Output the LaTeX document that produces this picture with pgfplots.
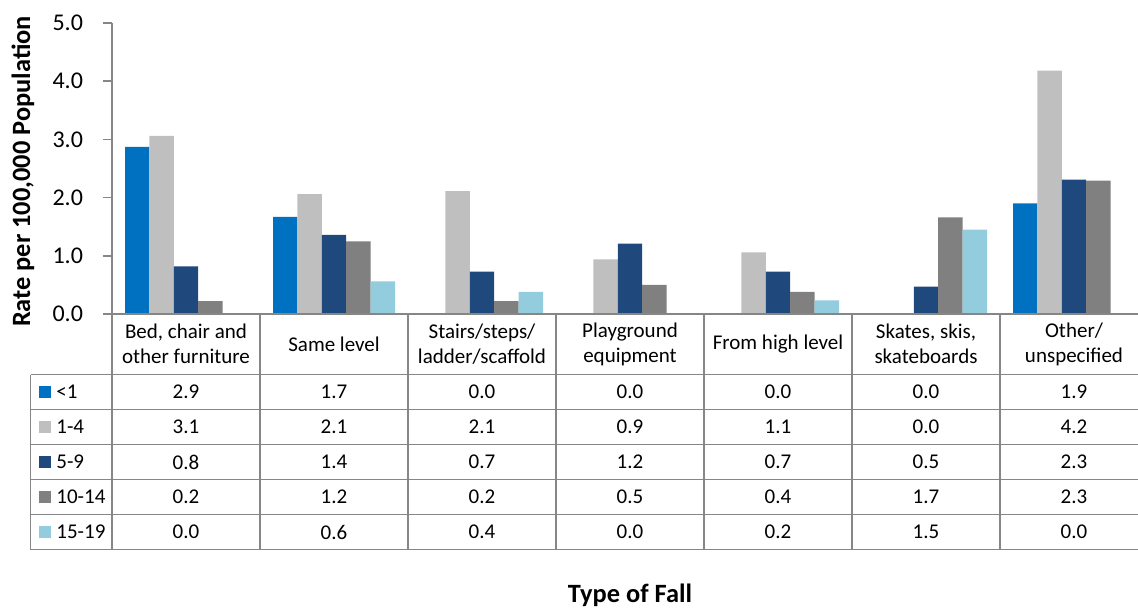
\documentclass[border=0pt]{standalone}
\usepackage{fontspec}
\setmainfont{Carlito}
\usepackage{pgfplots}
\pgfplotsset{compat=1.18}
\definecolor{cA}{HTML}{0070C0}
\definecolor{cB}{HTML}{BFBFBF}
\definecolor{cC}{HTML}{1F497D}
\definecolor{cD}{HTML}{808080}
\definecolor{cE}{HTML}{93CDDD}
\definecolor{gl}{HTML}{868686}
\newcommand{\tfont}{\fontsize{10.5}{12.6}\selectfont}
\begin{document}
\begin{tikzpicture}[x=0.5pt,y=-0.5pt]
\path[use as bounding box] (0,0) rectangle (1138,607);
\begin{axis}[
  at={(56pt,-157pt)}, anchor=south west,
  scale only axis, width=518pt, height=145.5pt,
  xmin=0.5, xmax=7.5, ymin=0, ymax=5,
  axis x line=none, axis y line*=left,
  y axis line style={draw=gl, line width=0.75pt},
  ytick={0,1,2,3,4,5},
  major tick length=4.5pt, tick align=outside,
  y tick style={draw=gl, line width=0.75pt},
  yticklabel style={font=\fontsize{12}{14}\selectfont, xshift=-6.5pt, /pgf/number format/fixed, /pgf/number format/fixed zerofill, /pgf/number format/precision=1},
  /pgf/number format/assume math mode=true,
  ybar=0pt, bar width=12.2pt,
  clip=false,
]
\addplot[fill=cA, draw=none] coordinates {(1,2.87) (2,1.67) (3,0) (4,0) (5,0) (6,0) (7,1.90)};
\addplot[fill=cB, draw=none] coordinates {(1,3.06) (2,2.06) (3,2.11) (4,0.94) (5,1.06) (6,0) (7,4.18)};
\addplot[fill=cC, draw=none] coordinates {(1,0.82) (2,1.36) (3,0.73) (4,1.21) (5,0.73) (6,0.47) (7,2.31)};
\addplot[fill=cD, draw=none] coordinates {(1,0.22) (2,1.25) (3,0.22) (4,0.50) (5,0.38) (6,1.66) (7,2.29)};
\addplot[fill=cE, draw=none] coordinates {(1,0) (2,0.56) (3,0.38) (4,0) (5,0.235) (6,1.45) (7,0)};
\end{axis}
% axis line / table frame
\begin{scope}[draw=gl, line width=0.75pt]
\draw (103,314) -- (1148,314);
\foreach \yy in {374.5,409.5,444.5,479.5,514.5,549.5} \draw (30.7,\yy) -- (1148,\yy);
\draw (30.7,374.5) -- (30.7,549.5);
\foreach \k in {0,...,7} \draw ({112+148*\k},314) -- ({112+148*\k},549.5);
\end{scope}
% header
\begin{scope}[font=\tfont, align=center]
\node at (186,344) {Bed, chair and\\other furniture};
\node at (334,344) {Same level};
\node at (482,344) {Stairs/steps/\\ladder/scaffold};
\node at (630,344) {Playground\\equipment};
\node at (778,344) {From high level};
\node at (926,344) {Skates, skis,\\skateboards};
\node at (1074,344) {Other/\\unspecified};
\end{scope}
% legend column
\begin{scope}[font=\tfont]
\foreach \c/\l [count=\i from 0] in {cA/{<1},cB/{1-4},cC/{5-9},cD/{10-14},cE/{15-19}} {
  \fill[\c] (39,{386+35*\i}) rectangle (51,{398+35*\i});
  \node[anchor=west, inner sep=0pt] at (56,{392+35*\i}) {\l};
}
% values
\foreach \r [count=\i from 0] in {
  {2.9,1.7,0.0,0.0,0.0,0.0,1.9},
  {3.1,2.1,2.1,0.9,1.1,0.0,4.2},
  {0.8,1.4,0.7,1.2,0.7,0.5,2.3},
  {0.2,1.2,0.2,0.5,0.4,1.7,2.3},
  {0.0,0.6,0.4,0.0,0.2,1.5,0.0}} {
  \foreach \v [count=\j from 0] in \r {
    \node at ({186+148*\j},{392+35*\i}) {\v};
  }
}
\end{scope}
\node[rotate=90, font=\fontsize{13.2}{15}\selectfont\bfseries] at (23,171.5) {Rate per 100,000 Population};
\node[font=\fontsize{13.2}{15}\selectfont\bfseries] at (630,595) {Type of Fall};
\end{tikzpicture}
\end{document}
